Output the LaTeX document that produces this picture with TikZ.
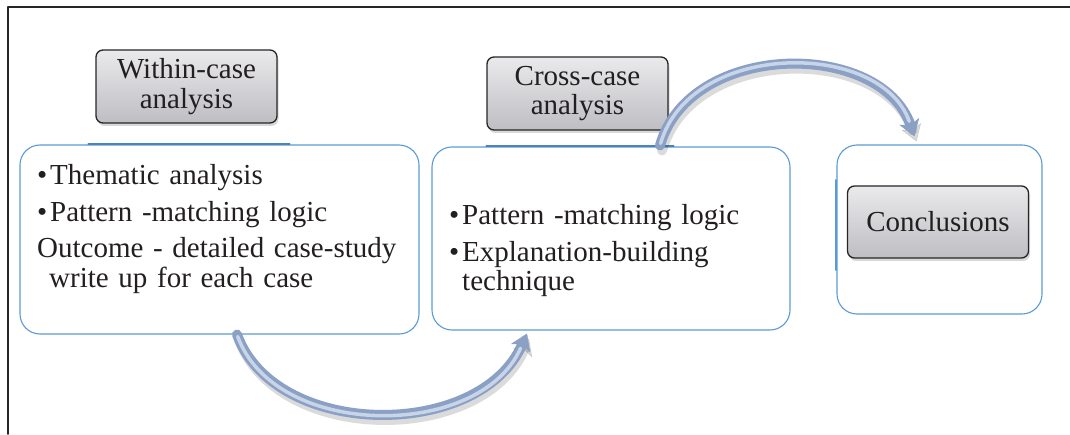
\documentclass[tikz,border=0pt]{standalone}
\usepackage{fontspec}
\setmainfont{Liberation Serif}
\usepackage{tikz}
\usetikzlibrary{calc}
\usetikzlibrary{arrows.meta}
\usetikzlibrary{shadows}

\definecolor{boxblue}{RGB}{91,155,213}
\definecolor{arrowblue}{RGB}{138,160,196}
\definecolor{arrowlight}{RGB}{200,212,232}
\definecolor{titletop}{RGB}{234,234,236}
\definecolor{titlebot}{RGB}{190,190,195}
\definecolor{inkgray}{RGB}{35,31,32}

\newcommand{\bulletline}[1]{\noindent\makebox[13pt][l]{\textbullet}#1\par}

\begin{document}
\begin{tikzpicture}[
				x=1pt, y=1pt,
				line cap=round,
				line join=round,
				every node/.style={text=inkgray},
				titlebox/.style={draw=black!85, line width=1.3pt, rounded corners=7pt,
					top color=titletop, bottom color=titlebot,
					minimum width=181pt, minimum height=73pt, inner sep=0pt, align=center,
					font=\fontsize{29}{29.5}\selectfont,
					drop shadow={shadow xshift=1.5pt, shadow yshift=-3pt, opacity=0.3}},
				listbox/.style={draw=boxblue, line width=1.1pt, rounded corners=20pt, fill=white, inner sep=0pt},
				listtext/.style={anchor=base west, text width=370pt, inner sep=0pt, align=left,
					font=\fontsize{29}{29.5}\selectfont},
				flowarrow/.style={line width=10pt, draw=arrowblue,
					-{Stealth[length=16pt, width=21pt, inset=4pt, line width=0.6pt]}},
				flowlight/.style={line width=3.5pt, draw=arrowlight, shorten >=16pt, shorten <=2pt},
				flowshadow/.style={line width=10pt, draw=black, opacity=0.14,
					transform canvas={shift={(2pt,-5pt)}},
					-{Stealth[length=16pt, width=21pt, inset=4pt, line width=0.6pt]}}
				]
				\useasboundingbox (0,0) rectangle (1070,434);
				
				% Frame
				\draw[line width=1.8pt, black!85] (8,0) -- (8,427) -- (1070,427);
				
				% Content boxes
				\node[listbox, minimum width=399pt, minimum height=189pt] (leftbox) at (219.5,194.5) {};
				\node[listbox, minimum width=358pt, minimum height=183pt] (midbox) at (611,195.5) {};
				\node[listbox, minimum width=205pt, minimum height=169pt] (endbox) at (939.5,204.5) {};
				
				% Title boxes
				\node[titlebox] (within) at (186.5,347.5) {Within-case\\analysis};
				\node[titlebox] (cross) at (577.5,340.5) {Cross-case\\analysis};
				\node[titlebox, minimum height=72pt] (concl) at (938,212) {Conclusions};
				
				% Darker edge pieces
				\draw[boxblue!85!black, line width=2pt] ([xshift=-7pt]leftbox.north -| within.west) -- ([xshift=12pt]leftbox.north -| within.east);
				\draw[boxblue!85!black, line width=2pt] (midbox.north -| cross.west) -- ([xshift=5pt]midbox.north -| cross.east);
				\draw[boxblue, line width=2pt] (endbox.west |- 0,254) -- (endbox.west |- 0,164);
				
				% Box texts
				\node[listtext] (leftlist) at (37,249) {\setlength{\parskip}{7pt}%
					\bulletline{Thematic analysis}%
					\bulletline{Pattern -matching logic}%
					\noindent Outcome - detailed case-study\\\hspace*{12pt}write up for each case};
				\node[listtext, text width=320pt] (midlist) at (449,209) {\setlength{\parskip}{7pt}%
					\bulletline{Pattern -matching logic}%
					\bulletline{Explanation-building\\\hspace*{13pt}technique}};
				
				% Curved arrows
				\coordinate (a1s) at ([xshift=17.5pt]leftbox.south);
				\coordinate (a1e) at ([xshift=-84pt, yshift=-3pt]midbox.south);
				\coordinate (a2s) at ([xshift=49pt, yshift=1pt]midbox.north);
				\coordinate (a2e) at ([xshift=-25pt, yshift=8pt]endbox.north);
				
				\draw[flowshadow] (a1s) .. controls +(38,-105) and +(-47,-107) .. (a1e);
				\draw[flowarrow] (a1s) .. controls +(38,-105) and +(-47,-107) .. (a1e);
				\draw[flowlight] (a1s) .. controls +(38,-105) and +(-47,-107) .. (a1e);
				
				\draw[flowshadow] (a2s) .. controls +(30,105) and +(-34,97) .. (a2e);
				\draw[flowarrow] (a2s) .. controls +(30,105) and +(-34,97) .. (a2e);
				\draw[flowlight] (a2s) .. controls +(30,105) and +(-34,97) .. (a2e);
\end{tikzpicture}
\end{document}
